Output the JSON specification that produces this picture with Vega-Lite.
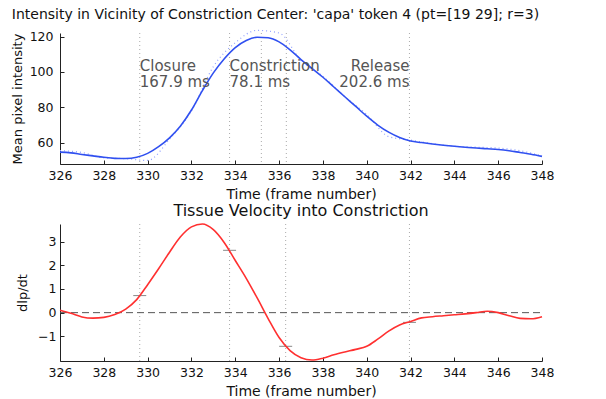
{
  "$schema": "https://vega.github.io/schema/vega-lite/v6.json",
  "background": "white",
  "padding": {"left": 11, "top": 7, "right": 5, "bottom": 2},
  "spacing": 1,
  "datasets": {
    "intensity": [
      {"frame": 326, "value": 54.7}, {"frame": 326.5, "value": 54.3}, {"frame": 327, "value": 53.4}, {"frame": 327.5, "value": 52.6},
      {"frame": 328, "value": 51.8}, {"frame": 328.5, "value": 51.2}, {"frame": 329, "value": 51.1}, {"frame": 329.5, "value": 51.8},
      {"frame": 330, "value": 54.0}, {"frame": 330.5, "value": 57.8}, {"frame": 331, "value": 62.8}, {"frame": 331.5, "value": 69.5},
      {"frame": 332, "value": 78.5}, {"frame": 332.5, "value": 89.5}, {"frame": 333, "value": 99.5}, {"frame": 333.5, "value": 107.5},
      {"frame": 334, "value": 113.8}, {"frame": 334.5, "value": 117.8}, {"frame": 335, "value": 119.6}, {"frame": 335.5, "value": 119.3},
      {"frame": 336, "value": 117.0}, {"frame": 336.5, "value": 112.5}, {"frame": 337, "value": 107.0}, {"frame": 337.5, "value": 102.0},
      {"frame": 338, "value": 97.0}, {"frame": 338.5, "value": 91.5}, {"frame": 339, "value": 86.0}, {"frame": 339.5, "value": 80.5},
      {"frame": 340, "value": 75.0}, {"frame": 340.5, "value": 70.0}, {"frame": 341, "value": 66.0}, {"frame": 341.5, "value": 63.0},
      {"frame": 342, "value": 61.0}, {"frame": 342.5, "value": 60.1}, {"frame": 343, "value": 59.3}, {"frame": 343.5, "value": 58.6},
      {"frame": 344, "value": 58.0}, {"frame": 344.5, "value": 57.5}, {"frame": 345, "value": 57.0}, {"frame": 345.5, "value": 56.6},
      {"frame": 346, "value": 56.2}, {"frame": 346.5, "value": 55.5}, {"frame": 347, "value": 54.5}, {"frame": 347.5, "value": 53.5},
      {"frame": 348, "value": 52.3}
    ],
    "raw": [
      {"frame": 326, "value": 55.6}, {"frame": 327, "value": 54.5}, {"frame": 328, "value": 51.5}, {"frame": 329, "value": 51.0},
      {"frame": 330, "value": 50.0}, {"frame": 331, "value": 62.0}, {"frame": 332, "value": 78.0}, {"frame": 333, "value": 103.0},
      {"frame": 334, "value": 116.5}, {"frame": 335, "value": 123.5}, {"frame": 336, "value": 122.0}, {"frame": 337, "value": 106.5},
      {"frame": 338, "value": 97.5}, {"frame": 339, "value": 86.0}, {"frame": 340, "value": 76.0}, {"frame": 341, "value": 63.5},
      {"frame": 342, "value": 61.5}, {"frame": 343, "value": 59.5}, {"frame": 344, "value": 58.0}, {"frame": 345, "value": 57.5},
      {"frame": 346, "value": 57.0}, {"frame": 347, "value": 55.5}, {"frame": 348, "value": 52.5}
    ],
    "velocity": [
      {"frame": 326, "value": 0.1}, {"frame": 326.5, "value": -0.03}, {"frame": 327, "value": -0.18}, {"frame": 327.5, "value": -0.23},
      {"frame": 328, "value": -0.2}, {"frame": 328.5, "value": -0.08}, {"frame": 329, "value": 0.15}, {"frame": 329.5, "value": 0.55},
      {"frame": 330, "value": 1.18}, {"frame": 330.5, "value": 1.85}, {"frame": 331, "value": 2.55}, {"frame": 331.5, "value": 3.2},
      {"frame": 332, "value": 3.62}, {"frame": 332.5, "value": 3.74}, {"frame": 333, "value": 3.5}, {"frame": 333.5, "value": 2.95},
      {"frame": 334, "value": 2.2}, {"frame": 334.5, "value": 1.45}, {"frame": 335, "value": 0.62}, {"frame": 335.5, "value": -0.25},
      {"frame": 336, "value": -1.05}, {"frame": 336.5, "value": -1.6}, {"frame": 337, "value": -1.9}, {"frame": 337.5, "value": -2.0},
      {"frame": 338, "value": -1.92}, {"frame": 338.5, "value": -1.78}, {"frame": 339, "value": -1.66}, {"frame": 339.5, "value": -1.55},
      {"frame": 340, "value": -1.42}, {"frame": 340.5, "value": -1.12}, {"frame": 341, "value": -0.78}, {"frame": 341.5, "value": -0.52},
      {"frame": 342, "value": -0.37}, {"frame": 342.5, "value": -0.22}, {"frame": 343, "value": -0.17}, {"frame": 343.5, "value": -0.13},
      {"frame": 344, "value": -0.09}, {"frame": 344.5, "value": -0.05}, {"frame": 345, "value": 0.0}, {"frame": 345.5, "value": 0.06},
      {"frame": 346, "value": 0.0}, {"frame": 346.5, "value": -0.13}, {"frame": 347, "value": -0.24}, {"frame": 347.5, "value": -0.26},
      {"frame": 348, "value": -0.17}
    ],
    "events_top": [{"frame": 329.64}, {"frame": 333.74}, {"frame": 335.19}, {"frame": 336.33}, {"frame": 341.95}],
    "events_bottom": [{"frame": 329.64}, {"frame": 333.74}, {"frame": 336.3}, {"frame": 341.95}],
    "markers": [{"frame": 329.64, "value": 0.72}, {"frame": 333.74, "value": 2.63}, {"frame": 336.3, "value": -1.42}, {"frame": 341.95, "value": -0.41}],
    "zero": [{"frame": 326, "value": 0}, {"frame": 348, "value": 0}],
    "labels_left": [{"frame": 329.64, "value": 100.4, "label": "Closure\n167.9 ms"}, {"frame": 333.74, "value": 100.4, "label": "Constriction\n78.1 ms"}],
    "labels_right": [{"frame": 341.95, "value": 100.4, "label": "Release\n202.6 ms"}]
  },
  "vconcat": [
    {
      "width": 482,
      "height": 131,
      "title": {"text": "Intensity in Vicinity of Constriction Center: 'capa' token 4 (pt=[19 29]; r=3)", "anchor": "start", "frame": "bounds", "fontSize": 14, "offset": 6, "dx": 0},
      "layer": [
        {
          "data": {"name": "events_top"},
          "mark": {"type": "rule", "color": "#aaaaaa", "strokeDash": [1, 3], "strokeWidth": 1},
          "encoding": {"x": {"field": "frame", "type": "quantitative", "scale": {"domain": [326, 348], "nice": false, "zero": false}}}
        },
        {
          "data": {"name": "raw"},
          "mark": {"type": "line", "color": "#90a0ff", "strokeDash": [1, 3], "strokeWidth": 1.2, "interpolate": "monotone"},
          "encoding": {
            "x": {"field": "frame", "type": "quantitative", "scale": {"domain": [326, 348], "nice": false, "zero": false}},
            "y": {"field": "value", "type": "quantitative", "scale": {"domain": [48, 122], "nice": false, "zero": false}}
          }
        },
        {
          "data": {"name": "intensity"},
          "mark": {"type": "line", "color": "#3050f0", "strokeWidth": 1.6, "interpolate": "monotone"},
          "encoding": {
            "x": {"field": "frame", "type": "quantitative", "scale": {"domain": [326, 348], "nice": false, "zero": false},
              "axis": {"title": "Time (frame number)", "values": [326, 328, 330, 332, 334, 336, 338, 340, 342, 344, 346, 348], "format": "d", "tickCount": 20, "labelPadding": 9, "titlePadding": 5.5}},
            "y": {"field": "value", "type": "quantitative", "scale": {"domain": [48, 122], "nice": false, "zero": false},
              "axis": {"title": "Mean pixel intensity", "titleFontSize": 13, "values": [60, 80, 100, 120], "format": "d", "tickCount": 10, "labelPadding": 11, "titlePadding": 4.3}}
          }
        },
        {
          "data": {"name": "labels_left"},
          "mark": {"type": "text", "align": "left", "baseline": "alphabetic", "lineBreak": "\n", "lineHeight": 16, "fontSize": 15, "color": "#555555"},
          "encoding": {
            "x": {"field": "frame", "type": "quantitative", "scale": {"domain": [326, 348], "nice": false, "zero": false}},
            "y": {"field": "value", "type": "quantitative", "scale": {"domain": [48, 122], "nice": false, "zero": false}},
            "text": {"field": "label"}
          }
        },
        {
          "data": {"name": "labels_right"},
          "mark": {"type": "text", "align": "right", "baseline": "alphabetic", "lineBreak": "\n", "lineHeight": 16, "fontSize": 15, "color": "#555555"},
          "encoding": {
            "x": {"field": "frame", "type": "quantitative", "scale": {"domain": [326, 348], "nice": false, "zero": false}},
            "y": {"field": "value", "type": "quantitative", "scale": {"domain": [48, 122], "nice": false, "zero": false}},
            "text": {"field": "label"}
          }
        }
      ]
    },
    {
      "width": 482,
      "height": 137,
      "title": {"text": "Tissue Velocity into Constriction", "anchor": "middle", "fontSize": 16, "offset": 2},
      "layer": [
        {
          "data": {"name": "events_bottom"},
          "mark": {"type": "rule", "color": "#aaaaaa", "strokeDash": [1, 3], "strokeWidth": 1},
          "encoding": {"x": {"field": "frame", "type": "quantitative", "scale": {"domain": [326, 348], "nice": false, "zero": false}}}
        },
        {
          "data": {"name": "zero"},
          "mark": {"type": "line", "color": "#555555", "strokeDash": [7, 4], "strokeWidth": 1},
          "encoding": {
            "x": {"field": "frame", "type": "quantitative", "scale": {"domain": [326, 348], "nice": false, "zero": false}},
            "y": {"field": "value", "type": "quantitative", "scale": {"domain": [-2.04, 3.74], "nice": false, "zero": false}}
          }
        },
        {
          "data": {"name": "markers"},
          "mark": {"type": "tick", "color": "#555555", "orient": "horizontal", "size": 13, "thickness": 1},
          "encoding": {
            "x": {"field": "frame", "type": "quantitative", "scale": {"domain": [326, 348], "nice": false, "zero": false}},
            "y": {"field": "value", "type": "quantitative", "scale": {"domain": [-2.04, 3.74], "nice": false, "zero": false}}
          }
        },
        {
          "data": {"name": "velocity"},
          "mark": {"type": "line", "color": "#ff3030", "strokeWidth": 1.6, "interpolate": "monotone"},
          "encoding": {
            "x": {"field": "frame", "type": "quantitative", "scale": {"domain": [326, 348], "nice": false, "zero": false},
              "axis": {"title": "Time (frame number)", "values": [326, 328, 330, 332, 334, 336, 338, 340, 342, 344, 346, 348], "format": "d", "tickCount": 20, "labelPadding": 9, "titlePadding": 5.5}},
            "y": {"field": "value", "type": "quantitative", "scale": {"domain": [-2.04, 3.74], "nice": false, "zero": false},
              "axis": {"title": "dlp/dt", "titleFontSize": 13, "values": [-1, 0, 1, 2, 3], "format": "d", "tickCount": 10, "labelPadding": 8, "titlePadding": 8.3}}
          }
        }
      ]
    }
  ],
  "config": {
    "font": "DejaVu Sans",
    "view": {"stroke": null},
    "title": {"font": "DejaVu Sans", "fontWeight": "normal", "color": "#111111"},
    "axis": {
      "grid": false,
      "domainColor": "#222222",
      "tickColor": "#222222",
      "labelColor": "#111111",
      "titleColor": "#111111",
      "labelFont": "DejaVu Sans",
      "titleFont": "DejaVu Sans",
      "labelFontSize": 12.5,
      "titleFontSize": 14,
      "titleFontWeight": "normal",
      "tickSize": -4,
      "labelPadding": 9,
      "titlePadding": 2,
      "labelOverlap": false,
      "labelFlush": false,
      "domainWidth": 1
    }
  }
}
